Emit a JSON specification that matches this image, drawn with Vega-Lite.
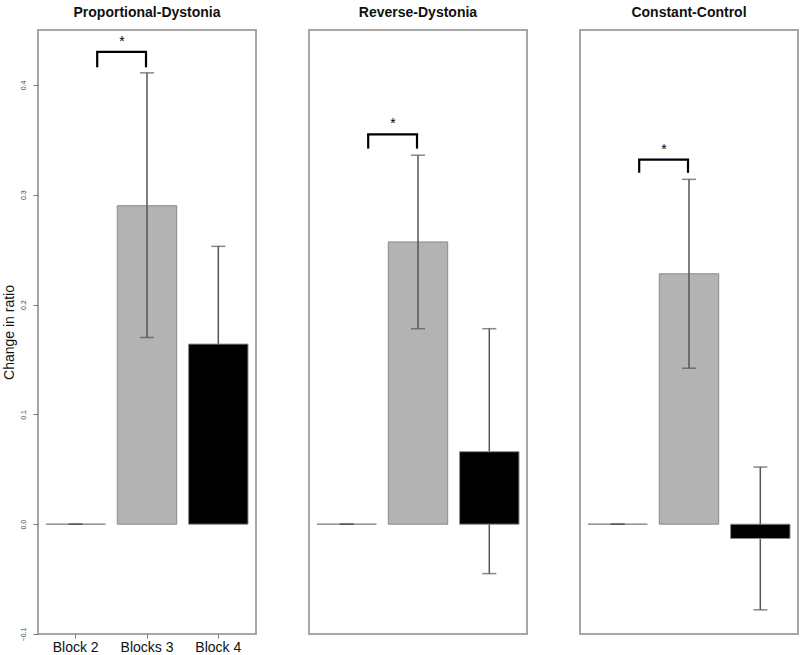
{
  "$schema": "https://vega.github.io/schema/vega-lite/v6.json",
  "padding": {"left": 0, "top": 5, "right": 3, "bottom": 3},
  "background": "white",
  "bounds": "flush",
  "spacing": 53,
  "config": {
    "font": "Liberation Sans",
    "view": {"stroke": "#a6a6a6", "strokeWidth": 2},
    "title": {"fontSize": 14, "fontWeight": "bold", "color": "#111111", "offset": 10, "anchor": "middle"},
    "axis": {"grid": false, "domain": false}
  },
  "datasets": {
    "bars": [
      {"panel": "Proportional-Dystonia", "block": "Block 2", "value": 0, "lo": 0, "hi": 0},
      {"panel": "Proportional-Dystonia", "block": "Blocks 3", "value": 0.290, "lo": 0.170, "hi": 0.411},
      {"panel": "Proportional-Dystonia", "block": "Block 4", "value": 0.164, "lo": 0.075, "hi": 0.253},
      {"panel": "Reverse-Dystonia", "block": "Block 2", "value": 0, "lo": 0, "hi": 0},
      {"panel": "Reverse-Dystonia", "block": "Blocks 3", "value": 0.257, "lo": 0.178, "hi": 0.336},
      {"panel": "Reverse-Dystonia", "block": "Block 4", "value": 0.066, "lo": -0.045, "hi": 0.178},
      {"panel": "Constant-Control", "block": "Block 2", "value": 0, "lo": 0, "hi": 0},
      {"panel": "Constant-Control", "block": "Blocks 3", "value": 0.228, "lo": 0.142, "hi": 0.314},
      {"panel": "Constant-Control", "block": "Block 4", "value": -0.013, "lo": -0.078, "hi": 0.052}
    ],
    "brackets": [
      {"panel": "Proportional-Dystonia", "from": "Block 2", "to": "Blocks 3", "top": 0.430, "bottom": 0.416, "label": "*"},
      {"panel": "Reverse-Dystonia", "from": "Block 2", "to": "Blocks 3", "top": 0.355, "bottom": 0.342, "label": "*"},
      {"panel": "Constant-Control", "from": "Block 2", "to": "Blocks 3", "top": 0.332, "bottom": 0.320, "label": "*"}
    ]
  },
  "hconcat": [
    {
      "width": 218, "height": 604,
      "title": "Proportional-Dystonia",
      "layer": [
        {
          "data": {"name": "bars"},
          "transform": [{"filter": "datum.panel === 'Proportional-Dystonia' && datum.block === 'Block 4'"}],
          "mark": {"type": "rule", "color": "#555555", "strokeWidth": 1.5},
          "encoding": {
            "x": {"field": "block", "type": "nominal",
                  "scale": {"domain": ["Block 2", "Blocks 3", "Block 4"], "paddingInner": 0.1667, "paddingOuter": 0.112},
                  "axis": {"title": null, "labelAngle": 0, "labelFontSize": 14, "labelColor": "#111111", "tickSize": 4, "tickColor": "#777777", "labelPadding": 2}},
            "y": {"field": "lo", "type": "quantitative",
                  "scale": {"domain": [-0.1, 0.45], "nice": false, "zero": false},
                  "axis": {"title": "Change in ratio", "values": [-0.1, 0, 0.1, 0.2, 0.3, 0.4], "format": ".1f",
                           "labelAngle": 270, "labelAlign": "center", "labelBaseline": "bottom",
                           "labelFontSize": 7, "labelColor": "#444444", "tickSize": 5, "tickColor": "#777777",
                           "labelPadding": 7, "titleFontSize": 14, "titleFontWeight": "normal", "titleColor": "#111111", "titlePadding": 3}},
            "y2": {"field": "hi"}
          }
        },
        {
          "data": {"name": "bars"},
          "transform": [{"filter": "datum.panel === 'Proportional-Dystonia' && datum.block === 'Block 4'"}],
          "mark": {"type": "tick", "orient": "horizontal", "size": 14, "thickness": 1.5, "color": "#555555"},
          "encoding": {"x": {"field": "block", "type": "nominal"}, "y": {"field": "hi", "type": "quantitative"}}
        },
        {
          "data": {"name": "bars"},
          "transform": [{"filter": "datum.panel === 'Proportional-Dystonia' && datum.block === 'Block 4'"}],
          "mark": {"type": "tick", "orient": "horizontal", "size": 14, "thickness": 1.5, "color": "#555555"},
          "encoding": {"x": {"field": "block", "type": "nominal"}, "y": {"field": "lo", "type": "quantitative"}}
        },
        {
          "data": {"name": "bars"},
          "transform": [{"filter": "datum.panel === 'Proportional-Dystonia'"}],
          "mark": {"type": "bar", "stroke": "#8a8a8a", "strokeWidth": 1},
          "encoding": {
            "x": {"field": "block", "type": "nominal"},
            "y": {"field": "value", "type": "quantitative"},
            "y2": {"datum": 0},
            "fill": {"field": "block", "type": "nominal", "scale": {"domain": ["Block 2", "Blocks 3", "Block 4"], "range": ["#b3b3b3", "#b3b3b3", "#000000"]}, "legend": null}
          }
        },
        {
          "data": {"name": "bars"},
          "transform": [{"filter": "datum.panel === 'Proportional-Dystonia' && datum.block !== 'Block 4'"}],
          "mark": {"type": "rule", "color": "#555555", "strokeWidth": 1.5},
          "encoding": {"x": {"field": "block", "type": "nominal"}, "y": {"field": "lo", "type": "quantitative"}, "y2": {"field": "hi"}}
        },
        {
          "data": {"name": "bars"},
          "transform": [{"filter": "datum.panel === 'Proportional-Dystonia' && datum.block !== 'Block 4'"}],
          "mark": {"type": "tick", "orient": "horizontal", "size": 14, "thickness": 1.5, "color": "#555555"},
          "encoding": {"x": {"field": "block", "type": "nominal"}, "y": {"field": "hi", "type": "quantitative"}}
        },
        {
          "data": {"name": "bars"},
          "transform": [{"filter": "datum.panel === 'Proportional-Dystonia' && datum.block !== 'Block 4'"}],
          "mark": {"type": "tick", "orient": "horizontal", "size": 14, "thickness": 1.5, "color": "#555555"},
          "encoding": {"x": {"field": "block", "type": "nominal"}, "y": {"field": "lo", "type": "quantitative"}}
        },
        {
          "data": {"name": "brackets"},
          "transform": [{"filter": "datum.panel === 'Proportional-Dystonia'"}],
          "mark": {"type": "rule", "color": "#000000", "strokeWidth": 2.2, "xOffset": 21.5, "x2Offset": -1, "strokeCap": "square"},
          "encoding": {"x": {"field": "from", "type": "nominal"}, "x2": {"field": "to"}, "y": {"field": "top", "type": "quantitative"}}
        },
        {
          "data": {"name": "brackets"},
          "transform": [{"filter": "datum.panel === 'Proportional-Dystonia'"}],
          "mark": {"type": "rule", "color": "#000000", "strokeWidth": 2.2, "xOffset": 21.5},
          "encoding": {"x": {"field": "from", "type": "nominal"}, "y": {"field": "top", "type": "quantitative"}, "y2": {"field": "bottom"}}
        },
        {
          "data": {"name": "brackets"},
          "transform": [{"filter": "datum.panel === 'Proportional-Dystonia'"}],
          "mark": {"type": "rule", "color": "#000000", "strokeWidth": 2.2, "xOffset": -1},
          "encoding": {"x": {"field": "to", "type": "nominal"}, "y": {"field": "top", "type": "quantitative"}, "y2": {"field": "bottom"}}
        },
        {
          "data": {"name": "brackets"},
          "transform": [{"filter": "datum.panel === 'Proportional-Dystonia'"}],
          "mark": {"type": "text", "fontSize": 14, "color": "#000000", "dx": -25, "dy": -6, "baseline": "alphabetic"},
          "encoding": {"x": {"field": "to", "type": "nominal"}, "y": {"field": "top", "type": "quantitative"}, "text": {"field": "label"}}
        }
      ]
    },
    {
      "width": 218, "height": 604,
      "title": "Reverse-Dystonia",
      "layer": [
        {
          "data": {"name": "bars"},
          "transform": [{"filter": "datum.panel === 'Reverse-Dystonia' && datum.block === 'Block 4'"}],
          "mark": {"type": "rule", "color": "#555555", "strokeWidth": 1.5},
          "encoding": {
            "x": {"field": "block", "type": "nominal",
                  "scale": {"domain": ["Block 2", "Blocks 3", "Block 4"], "paddingInner": 0.1667, "paddingOuter": 0.112},
                  "axis": null},
            "y": {"field": "lo", "type": "quantitative",
                  "scale": {"domain": [-0.1, 0.45], "nice": false, "zero": false}, "axis": null},
            "y2": {"field": "hi"}
          }
        },
        {
          "data": {"name": "bars"},
          "transform": [{"filter": "datum.panel === 'Reverse-Dystonia' && datum.block === 'Block 4'"}],
          "mark": {"type": "tick", "orient": "horizontal", "size": 14, "thickness": 1.5, "color": "#555555"},
          "encoding": {"x": {"field": "block", "type": "nominal"}, "y": {"field": "hi", "type": "quantitative"}}
        },
        {
          "data": {"name": "bars"},
          "transform": [{"filter": "datum.panel === 'Reverse-Dystonia' && datum.block === 'Block 4'"}],
          "mark": {"type": "tick", "orient": "horizontal", "size": 14, "thickness": 1.5, "color": "#555555"},
          "encoding": {"x": {"field": "block", "type": "nominal"}, "y": {"field": "lo", "type": "quantitative"}}
        },
        {
          "data": {"name": "bars"},
          "transform": [{"filter": "datum.panel === 'Reverse-Dystonia'"}],
          "mark": {"type": "bar", "stroke": "#8a8a8a", "strokeWidth": 1},
          "encoding": {
            "x": {"field": "block", "type": "nominal"},
            "y": {"field": "value", "type": "quantitative"},
            "y2": {"datum": 0},
            "fill": {"field": "block", "type": "nominal", "scale": {"domain": ["Block 2", "Blocks 3", "Block 4"], "range": ["#b3b3b3", "#b3b3b3", "#000000"]}, "legend": null}
          }
        },
        {
          "data": {"name": "bars"},
          "transform": [{"filter": "datum.panel === 'Reverse-Dystonia' && datum.block !== 'Block 4'"}],
          "mark": {"type": "rule", "color": "#555555", "strokeWidth": 1.5},
          "encoding": {"x": {"field": "block", "type": "nominal"}, "y": {"field": "lo", "type": "quantitative"}, "y2": {"field": "hi"}}
        },
        {
          "data": {"name": "bars"},
          "transform": [{"filter": "datum.panel === 'Reverse-Dystonia' && datum.block !== 'Block 4'"}],
          "mark": {"type": "tick", "orient": "horizontal", "size": 14, "thickness": 1.5, "color": "#555555"},
          "encoding": {"x": {"field": "block", "type": "nominal"}, "y": {"field": "hi", "type": "quantitative"}}
        },
        {
          "data": {"name": "bars"},
          "transform": [{"filter": "datum.panel === 'Reverse-Dystonia' && datum.block !== 'Block 4'"}],
          "mark": {"type": "tick", "orient": "horizontal", "size": 14, "thickness": 1.5, "color": "#555555"},
          "encoding": {"x": {"field": "block", "type": "nominal"}, "y": {"field": "lo", "type": "quantitative"}}
        },
        {
          "data": {"name": "brackets"},
          "transform": [{"filter": "datum.panel === 'Reverse-Dystonia'"}],
          "mark": {"type": "rule", "color": "#000000", "strokeWidth": 2.2, "xOffset": 21.5, "x2Offset": -1, "strokeCap": "square"},
          "encoding": {"x": {"field": "from", "type": "nominal"}, "x2": {"field": "to"}, "y": {"field": "top", "type": "quantitative"}}
        },
        {
          "data": {"name": "brackets"},
          "transform": [{"filter": "datum.panel === 'Reverse-Dystonia'"}],
          "mark": {"type": "rule", "color": "#000000", "strokeWidth": 2.2, "xOffset": 21.5},
          "encoding": {"x": {"field": "from", "type": "nominal"}, "y": {"field": "top", "type": "quantitative"}, "y2": {"field": "bottom"}}
        },
        {
          "data": {"name": "brackets"},
          "transform": [{"filter": "datum.panel === 'Reverse-Dystonia'"}],
          "mark": {"type": "rule", "color": "#000000", "strokeWidth": 2.2, "xOffset": -1},
          "encoding": {"x": {"field": "to", "type": "nominal"}, "y": {"field": "top", "type": "quantitative"}, "y2": {"field": "bottom"}}
        },
        {
          "data": {"name": "brackets"},
          "transform": [{"filter": "datum.panel === 'Reverse-Dystonia'"}],
          "mark": {"type": "text", "fontSize": 14, "color": "#000000", "dx": -25, "dy": -6, "baseline": "alphabetic"},
          "encoding": {"x": {"field": "to", "type": "nominal"}, "y": {"field": "top", "type": "quantitative"}, "text": {"field": "label"}}
        }
      ]
    },
    {
      "width": 218, "height": 604,
      "title": "Constant-Control",
      "layer": [
        {
          "data": {"name": "bars"},
          "transform": [{"filter": "datum.panel === 'Constant-Control' && datum.block === 'Block 4'"}],
          "mark": {"type": "rule", "color": "#555555", "strokeWidth": 1.5},
          "encoding": {
            "x": {"field": "block", "type": "nominal",
                  "scale": {"domain": ["Block 2", "Blocks 3", "Block 4"], "paddingInner": 0.1667, "paddingOuter": 0.112},
                  "axis": null},
            "y": {"field": "lo", "type": "quantitative",
                  "scale": {"domain": [-0.1, 0.45], "nice": false, "zero": false}, "axis": null},
            "y2": {"field": "hi"}
          }
        },
        {
          "data": {"name": "bars"},
          "transform": [{"filter": "datum.panel === 'Constant-Control' && datum.block === 'Block 4'"}],
          "mark": {"type": "tick", "orient": "horizontal", "size": 14, "thickness": 1.5, "color": "#555555"},
          "encoding": {"x": {"field": "block", "type": "nominal"}, "y": {"field": "hi", "type": "quantitative"}}
        },
        {
          "data": {"name": "bars"},
          "transform": [{"filter": "datum.panel === 'Constant-Control' && datum.block === 'Block 4'"}],
          "mark": {"type": "tick", "orient": "horizontal", "size": 14, "thickness": 1.5, "color": "#555555"},
          "encoding": {"x": {"field": "block", "type": "nominal"}, "y": {"field": "lo", "type": "quantitative"}}
        },
        {
          "data": {"name": "bars"},
          "transform": [{"filter": "datum.panel === 'Constant-Control'"}],
          "mark": {"type": "bar", "stroke": "#8a8a8a", "strokeWidth": 1},
          "encoding": {
            "x": {"field": "block", "type": "nominal"},
            "y": {"field": "value", "type": "quantitative"},
            "y2": {"datum": 0},
            "fill": {"field": "block", "type": "nominal", "scale": {"domain": ["Block 2", "Blocks 3", "Block 4"], "range": ["#b3b3b3", "#b3b3b3", "#000000"]}, "legend": null}
          }
        },
        {
          "data": {"name": "bars"},
          "transform": [{"filter": "datum.panel === 'Constant-Control' && datum.block !== 'Block 4'"}],
          "mark": {"type": "rule", "color": "#555555", "strokeWidth": 1.5},
          "encoding": {"x": {"field": "block", "type": "nominal"}, "y": {"field": "lo", "type": "quantitative"}, "y2": {"field": "hi"}}
        },
        {
          "data": {"name": "bars"},
          "transform": [{"filter": "datum.panel === 'Constant-Control' && datum.block !== 'Block 4'"}],
          "mark": {"type": "tick", "orient": "horizontal", "size": 14, "thickness": 1.5, "color": "#555555"},
          "encoding": {"x": {"field": "block", "type": "nominal"}, "y": {"field": "hi", "type": "quantitative"}}
        },
        {
          "data": {"name": "bars"},
          "transform": [{"filter": "datum.panel === 'Constant-Control' && datum.block !== 'Block 4'"}],
          "mark": {"type": "tick", "orient": "horizontal", "size": 14, "thickness": 1.5, "color": "#555555"},
          "encoding": {"x": {"field": "block", "type": "nominal"}, "y": {"field": "lo", "type": "quantitative"}}
        },
        {
          "data": {"name": "brackets"},
          "transform": [{"filter": "datum.panel === 'Constant-Control'"}],
          "mark": {"type": "rule", "color": "#000000", "strokeWidth": 2.2, "xOffset": 21.5, "x2Offset": -1, "strokeCap": "square"},
          "encoding": {"x": {"field": "from", "type": "nominal"}, "x2": {"field": "to"}, "y": {"field": "top", "type": "quantitative"}}
        },
        {
          "data": {"name": "brackets"},
          "transform": [{"filter": "datum.panel === 'Constant-Control'"}],
          "mark": {"type": "rule", "color": "#000000", "strokeWidth": 2.2, "xOffset": 21.5},
          "encoding": {"x": {"field": "from", "type": "nominal"}, "y": {"field": "top", "type": "quantitative"}, "y2": {"field": "bottom"}}
        },
        {
          "data": {"name": "brackets"},
          "transform": [{"filter": "datum.panel === 'Constant-Control'"}],
          "mark": {"type": "rule", "color": "#000000", "strokeWidth": 2.2, "xOffset": -1},
          "encoding": {"x": {"field": "to", "type": "nominal"}, "y": {"field": "top", "type": "quantitative"}, "y2": {"field": "bottom"}}
        },
        {
          "data": {"name": "brackets"},
          "transform": [{"filter": "datum.panel === 'Constant-Control'"}],
          "mark": {"type": "text", "fontSize": 14, "color": "#000000", "dx": -25, "dy": -6, "baseline": "alphabetic"},
          "encoding": {"x": {"field": "to", "type": "nominal"}, "y": {"field": "top", "type": "quantitative"}, "text": {"field": "label"}}
        }
      ]
    }
  ]
}
